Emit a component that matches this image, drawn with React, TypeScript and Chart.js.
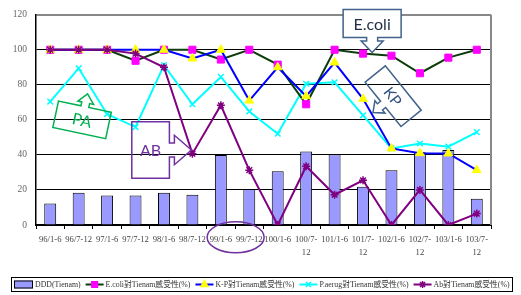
import React, { useEffect, useRef } from "react";
import { Chart, registerables } from "chart.js";
import { drawPoint } from "chart.js/helpers";

Chart.register(...registerables);

const categories = [
  "96/1-6", "96/7-12", "97/1-6", "97/7-12", "98/1-6", "98/7-12", "99/1-6", "99/7-12",
  "100/1-6", "100/7-12", "101/1-6", "101/7-12", "102/1-6", "102/7-12", "103/1-6", "103/7-12",
];
const xTickLabels: (string | string[])[] = [
  "96/1-6", "96/7-12", "97/1-6", "97/7-12", "98/1-6", "98/7-12", "99/1-6", "99/7-12",
  "100/1-6", ["100/7-", "12"], "101/1-6", ["101/7-", "12"], "102/1-6", ["102/7-", "12"], "103/1-6", ["103/7-", "12"],
];
const yTicks = [0, 20, 40, 60, 80, 100, 120];

const seriesLabels = [
  "DDD(Tienam)",
  "E.coli對Tienam感受性(%)",
  "K-P對Tienam感受性(%)",
  "P.aerug對Tienam感受性(%)",
  "Ab對Tienam感受性(%)",
];
const dddTienam = [12.3, 18.4, 16.8, 16.8, 18.4, 17.3, 40, 20.6, 30.7, 41.9, 40.4, 21.8, 31.3, 41.5, 42.8, 15];
const ecoliSus = [100, 100, 100, 93.7, 100, 100, 94.4, 100, 91.5, 68.9, 100, 97.8, 96.6, 86.6, 95.5, 100];
const kpSus = [100, 100, 100, 100, 100, 95, 100, 71, 90, 73.5, 92.7, 72, 43.7, 41, 40.8, 31.3];
const paSus = [70.4, 89.4, 63.3, 55.9, 91.2, 68.9, 84.5, 64.8, 52.1, 80.6, 81.4, 62.6, 43.7, 46.5, 44.7, 53];
const abSus = [100, 100, 100, 97.8, 90, 40.7, 68.3, 31.3, 0, 33.5, 17.3, 25.5, 0, 20, 0, 6.5];

const SERIF = '"Liberation Serif", "Times New Roman", "Noto Sans CJK TC", serif';
const SANS = 'Lato, "Open Sans", "Noto Sans", sans-serif';

const COLORS = {
  bar: "#9999FF",
  ecoliLine: "#0B3D0B",
  ecoliMark: "#FF00FF",
  kpLine: "#0000FF",
  kpMark: "#FFFF00",
  pa: "#00FFFF",
  ab: "#800080",
};

// Decorative callouts, anchored in data coordinates (category index, value); sizes in px
const callouts = [
  { label: "E.coli", i: 11.32, v: 115, w: 28, h: 58, angle: 90, shaftHalf: 5.5, wingHalf: 11, neck: 3.5, tipLen: 15, textAngle: 0, stroke: "#41628A", text: "#1F2F45", fill: "#FFFFFF", font: 16 },
  { label: "AB", i: 3.53, v: 42.8, w: 37.6, h: 56.7, angle: 0, shaftHalf: 7, wingHalf: 14.7, neck: 5, tipLen: 22, textAngle: 0, stroke: "#7030A0", text: "#7030A0", fill: "", font: 16 },
  { label: "KP", i: 12.06, v: 73.5, w: 26, h: 57, angle: 141, shaftHalf: 4, wingHalf: 8, neck: 4, tipLen: 13, textAngle: 52, stroke: "#41628A", text: "#2F4F7F", fill: "", font: 15 },
  { label: "PA", i: 1.12, v: 60, w: 27, h: 54, angle: -78, shaftHalf: 4, wingHalf: 8, neck: 4, tipLen: 13, textAngle: 12, stroke: "#00B050", text: "#00B050", fill: "", font: 16 },
];
const ellipseMark = { i: 6.52, v: -7, rx: 28.5, ry: 15.5, stroke: "#7030A0" };

function calloutPath(ctx: CanvasRenderingContext2D, w: number, h: number, sh: number, wh: number, neck: number, tip: number) {
  const L = -w / 2, R = w / 2, T = -h / 2, B = h / 2;
  ctx.beginPath();
  ctx.moveTo(L, T);
  ctx.lineTo(R, T);
  ctx.lineTo(R, -sh);
  ctx.lineTo(R + neck, -sh);
  ctx.lineTo(R + neck, -wh);
  ctx.lineTo(R + tip, 0);
  ctx.lineTo(R + neck, wh);
  ctx.lineTo(R + neck, sh);
  ctx.lineTo(R, sh);
  ctx.lineTo(R, B);
  ctx.lineTo(L, B);
  ctx.closePath();
}

const decorPlugin = {
  id: "decor",
  afterDraw(chart: any) {
    const ctx: CanvasRenderingContext2D = chart.ctx;
    const xs = chart.scales.x;
    const ys = chart.scales.y;
    const ca = chart.chartArea;
    ctx.save();
    // right frame border
    ctx.strokeStyle = "#888";
    ctx.lineWidth = 2;
    ctx.beginPath();
    ctx.moveTo(ca.right, ca.top);
    ctx.lineTo(ca.right, ca.bottom);
    ctx.stroke();

    for (const c of callouts) {
      const cx = xs.getPixelForValue(c.i);
      const cy = ys.getPixelForValue(c.v);
      ctx.save();
      ctx.translate(cx, cy);
      ctx.rotate((c.angle * Math.PI) / 180);
      calloutPath(ctx, c.w, c.h, c.shaftHalf, c.wingHalf, c.neck, c.tipLen);
      if (c.fill) {
        ctx.fillStyle = c.fill;
        ctx.fill();
      }
      ctx.strokeStyle = c.stroke;
      ctx.lineWidth = 1.5;
      ctx.stroke();
      ctx.restore();
      ctx.save();
      ctx.translate(cx, cy);
      ctx.rotate((c.textAngle * Math.PI) / 180);
      ctx.fillStyle = c.text;
      ctx.font = `${c.font}px ${SANS}`;
      ctx.textAlign = "center";
      ctx.textBaseline = "middle";
      ctx.fillText(c.label, 0, 1);
      ctx.restore();
    }

    const ex = xs.getPixelForValue(ellipseMark.i);
    const ey = ys.getPixelForValue(ellipseMark.v);
    ctx.strokeStyle = ellipseMark.stroke;
    ctx.lineWidth = 1.5;
    ctx.beginPath();
    ctx.ellipse(ex, ey, ellipseMark.rx, ellipseMark.ry, 0, 0, Math.PI * 2);
    ctx.stroke();

    // legend
    const items = [
      { kind: "bar" },
      { kind: "line", line: COLORS.ecoliLine, style: "rect", fill: COLORS.ecoliMark, stroke: COLORS.ecoliMark, r: 4 },
      { kind: "line", line: COLORS.kpLine, style: "triangle", fill: COLORS.kpMark, stroke: COLORS.kpMark, r: 4 },
      { kind: "line", line: COLORS.pa, style: "crossRot", fill: COLORS.pa, stroke: COLORS.pa, r: 3.5 },
      { kind: "line", line: COLORS.ab, style: "star", fill: COLORS.ab, stroke: COLORS.ab, r: 3.5 },
    ];
    const top = 277.5;
    const h = 14;
    const midY = top + h / 2;
    ctx.strokeStyle = "#000";
    ctx.lineWidth = 1;
    ctx.strokeRect(11.5, top, 501, h);
    ctx.font = `7.8px ${SERIF}`;
    ctx.textBaseline = "middle";
    ctx.textAlign = "left";
    let x = 14;
    items.forEach((it: any, k) => {
      if (it.kind === "bar") {
        ctx.fillStyle = COLORS.bar;
        ctx.fillRect(x, midY - 4, 19, 8);
        ctx.strokeStyle = "#000";
        ctx.lineWidth = 1;
        ctx.strokeRect(x + 0.5, midY - 3.5, 18, 7);
        x += 21;
      } else {
        ctx.strokeStyle = it.line;
        ctx.lineWidth = 2;
        ctx.beginPath();
        ctx.moveTo(x, midY);
        ctx.lineTo(x + 18, midY);
        ctx.stroke();
        ctx.fillStyle = it.fill;
        ctx.strokeStyle = it.stroke;
        ctx.lineWidth = 1.5;
        drawPoint(ctx, { pointStyle: it.style, radius: it.r, borderWidth: 1.5, rotation: 0 } as any, x + 9, midY);
        x += 20;
      }
      ctx.fillStyle = "#333";
      ctx.fillText(seriesLabels[k], x, midY + 0.5);
      x += ctx.measureText(seriesLabels[k]).width + 5;
    });
    ctx.restore();
  },
};

export default function App() {
  const ref = useRef<HTMLCanvasElement | null>(null);
  useEffect(() => {
    document.body.style.margin = "0";
    if (!ref.current) return;
    const chart = new Chart(ref.current, {
      type: "bar",
      data: {
        labels: categories,
        datasets: [
          {
            type: "line",
            label: seriesLabels[4],
            data: abSus,
            borderColor: COLORS.ab,
            borderWidth: 2,
            pointStyle: "star",
            pointRadius: 4,
            pointBorderColor: COLORS.ab,
            pointBackgroundColor: COLORS.ab,
            pointBorderWidth: 1.5,
            tension: 0,
            order: 1,
          } as any,
          {
            type: "line",
            label: seriesLabels[2],
            data: kpSus,
            borderColor: COLORS.kpLine,
            borderWidth: 2,
            pointStyle: "triangle",
            pointRadius: 5,
            pointBorderColor: COLORS.kpMark,
            pointBackgroundColor: COLORS.kpMark,
            pointBorderWidth: 1,
            tension: 0,
            order: 2,
          },
          {
            type: "line",
            label: seriesLabels[1],
            data: ecoliSus,
            borderColor: COLORS.ecoliLine,
            borderWidth: 2,
            pointStyle: "rect",
            pointRadius: 5,
            pointBorderColor: COLORS.ecoliMark,
            pointBackgroundColor: COLORS.ecoliMark,
            pointBorderWidth: 1,
            tension: 0,
            order: 3,
          },
          {
            type: "line",
            label: seriesLabels[3],
            data: paSus,
            borderColor: COLORS.pa,
            borderWidth: 2,
            pointStyle: "crossRot",
            pointRadius: 4,
            pointBorderColor: COLORS.pa,
            pointBackgroundColor: COLORS.pa,
            pointBorderWidth: 1.5,
            tension: 0,
            order: 4,
          },
          {
            type: "bar",
            label: seriesLabels[0],
            data: dddTienam,
            backgroundColor: COLORS.bar,
            borderColor: "#000",
            borderWidth: 1,
            barPercentage: 0.42,
            categoryPercentage: 1,
            order: 10,
          },
        ],
      },
      options: {
        responsive: false,
        animation: false,
        layout: { padding: { top: 10, right: 30, left: 0, bottom: 0 } },
        plugins: { legend: { display: false }, tooltip: { enabled: false } },
        scales: {
          x: {
            offset: true,
            grid: { drawOnChartArea: false, color: "#000", tickLength: 4, offset: true },
            border: { color: "#000", width: 2 },
            ticks: {
              autoSkip: false,
              maxRotation: 0,
              minRotation: 0,
              padding: 4,
              color: "#444",
              font: { family: SERIF, size: 8.6, lineHeight: 1.5 },
              callback: (_v: any, i: number) => xTickLabels[i],
            },
            afterFit: (s: any) => {
              s.height = 70;
            },
          },
          y: {
            min: yTicks[0],
            max: yTicks[yTicks.length - 1],
            afterBuildTicks: (s: any) => {
              s.ticks = yTicks.map((v) => ({ value: v }));
            },
            ticks: { padding: 9, color: "#666", font: { family: SERIF, size: 9.5 } },
            grid: {
              drawTicks: false,
              color: (c: any) => (c.tick && c.tick.value === 120 ? "#888" : "#000"),
              lineWidth: (c: any) => (c.tick && c.tick.value === 120 ? 2 : 1),
            },
            border: { color: "#000", width: 1.5 },
            afterFit: (s: any) => {
              s.width = 36;
            },
          },
        },
      },
      plugins: [decorPlugin],
    });
    return () => chart.destroy();
  }, []);
  return (
    <div style={{ position: "absolute", left: 0, top: 0, width: 521, height: 295, background: "#fff" }}>
      <canvas ref={ref} width={521} height={295} style={{ display: "block" }} />
    </div>
  );
}
